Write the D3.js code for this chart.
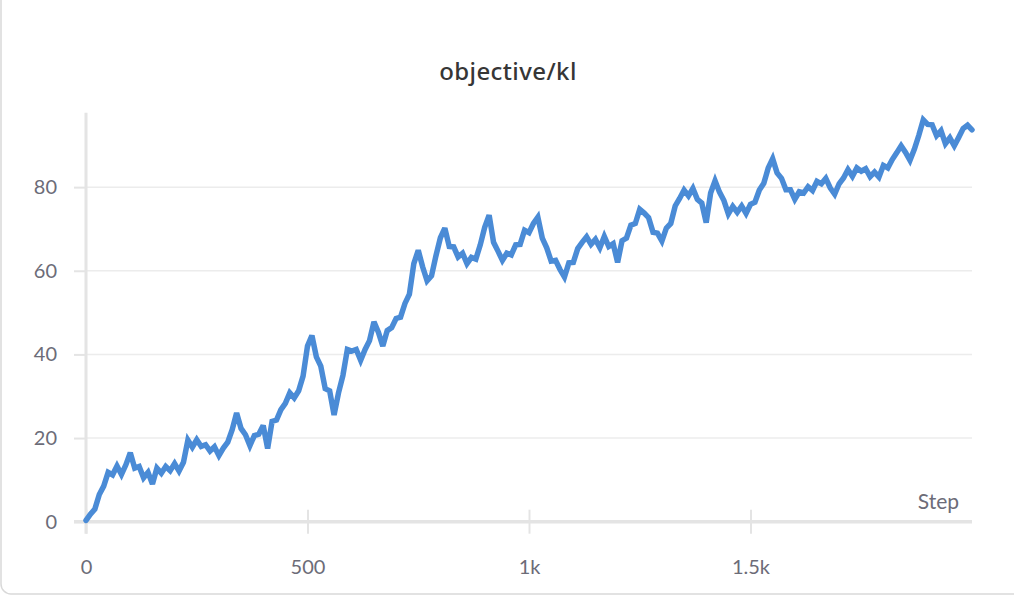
<!DOCTYPE html>
<html>
<head>
<meta charset="utf-8">
<script src="https://cdn.jsdelivr.net/npm/d3@7"></script>
<style>
  html, body { margin: 0; padding: 0; background: #ffffff; }
  svg { display: block; }
  text { font-family: Lato, "Noto Sans", sans-serif; }
</style>
</head>
<body>
<svg id="chart" width="1014" height="596"></svg>
<script>
// ---- data ----
const chartTitle = "objective/kl";
const xAxisLabel = "Step";
const stepInterval = 10;
const klValues = [
  0.3, 1.8, 3.0, 6.5, 8.5, 11.8, 11.2, 13.3, 11.3, 13.6,
  16.5, 12.8, 13.2, 10.5, 11.8, 9.0, 12.8, 11.6, 13.2, 12.2,
  13.9, 12.1, 14.2, 19.5, 17.8, 19.6, 18.0, 18.4, 16.9, 17.9,
  15.8, 17.6, 19.0, 22.0, 26.0, 22.3, 20.8, 18.2, 20.6, 20.9,
  23.0, 17.5, 24.0, 24.3, 26.8, 28.3, 30.8, 29.6, 31.3, 34.8,
  42.0, 44.5, 39.4, 37.2, 31.8, 31.3, 25.5, 30.8, 35.0, 41.2,
  40.8, 41.2, 38.6, 41.2, 43.3, 47.8, 45.3, 42.0, 45.7, 46.4,
  48.6, 48.9, 52.2, 54.4, 61.7, 64.9, 60.9, 57.6, 58.8, 63.6,
  67.9, 70.2, 65.8, 65.7, 63.3, 64.2, 61.7, 63.2, 62.8, 66.2,
  70.4, 73.3, 66.8, 64.7, 62.5, 64.2, 63.8, 66.2, 66.3, 69.7,
  69.1, 71.3, 72.8, 67.8, 65.5, 62.3, 62.5, 60.3, 58.5, 61.9,
  62.0, 65.3, 66.8, 68.1, 66.3, 67.5, 65.5, 68.2, 65.8, 66.5,
  62.0, 67.2, 67.8, 70.9, 71.3, 74.7, 73.8, 72.7, 69.2, 69.0,
  67.1, 70.2, 71.3, 75.5, 77.3, 79.3, 77.9, 79.7, 77.1, 76.2,
  71.5, 78.6, 81.5, 78.8, 76.8, 73.6, 75.4, 74.0, 75.5, 73.7,
  75.9, 76.4, 79.3, 80.9, 84.6, 86.8, 83.4, 82.1, 79.4, 79.4,
  77.1, 78.9, 78.6, 80.1, 79.2, 81.4, 80.8, 82.1, 79.8, 78.3,
  80.8, 82.2, 84.2, 82.6, 84.6, 83.8, 84.4, 82.5, 83.6, 82.4,
  85.2, 84.6, 86.6, 88.2, 89.9, 88.3, 86.4, 89.1, 92.4, 96.1,
  95.0, 94.9, 92.3, 93.5, 90.4, 91.8, 89.9, 91.9, 94.0, 94.8,
  93.7
];
const xTickValues = [0, 500, 1000, 1500];
const xTickLabels = ["0", "500", "1k", "1.5k"];
const yTickValues = [0, 20, 40, 60, 80];
const xDomain = [0, 2000];
const yDomain = [0, 97.8];

const data = klValues.map((v, i) => ({ step: i * stepInterval, value: v }));

// ---- layout ----
const svg = d3.select("#chart");
const plotLeft = 86, plotRight = 972, plotTop = 112.7, plotBottom = 521.7;

const x = d3.scaleLinear().domain(xDomain).range([plotLeft, plotRight]);
const y = d3.scaleLinear().domain(yDomain).range([plotBottom, plotTop]);

// card border
svg.append("rect")
  .attr("x", 1).attr("y", -20)
  .attr("width", 1100).attr("height", 614)
  .attr("rx", 10).attr("ry", 10)
  .attr("fill", "#fff")
  .attr("stroke", "#d9d9d9").attr("stroke-width", 1.5);

// title
svg.append("text")
  .attr("x", 508).attr("y", 80)
  .attr("text-anchor", "middle")
  .style("font-family", "'Noto Sans', 'Open Sans', sans-serif")
  .attr("font-size", 24).attr("font-weight", 500)
  .attr("letter-spacing", 0.4)
  .attr("fill", "#363636")
  .text(chartTitle);

// y axis ticks + labels
const yAxisG = svg.append("g")
  .attr("transform", `translate(${plotLeft},0)`)
  .call(d3.axisLeft(y).tickValues(yTickValues).tickSize(12).tickPadding(17).tickFormat(d3.format("d")));
yAxisG.select(".domain").remove();
yAxisG.selectAll(".tick line").attr("stroke", "#e4e4e4").attr("stroke-width", 2);
yAxisG.selectAll(".tick text")
  .attr("font-size", 20).attr("fill", "#6c6c78")
  .attr("font-family", "Lato, 'Noto Sans', sans-serif");

// grid lines
svg.append("g")
  .selectAll("line")
  .data(yTickValues.filter(d => d > 0))
  .join("line")
  .attr("x1", plotLeft).attr("x2", plotRight)
  .attr("y1", d => y(d)).attr("y2", d => y(d))
  .attr("stroke", "#ececec").attr("stroke-width", 1.5);

// y axis line
svg.append("line")
  .attr("x1", plotLeft).attr("x2", plotLeft)
  .attr("y1", plotTop).attr("y2", plotBottom + 12)
  .attr("stroke", "#e4e4e4").attr("stroke-width", 3);

// x axis
const xAxisG = svg.append("g")
  .attr("transform", `translate(0,${plotBottom})`)
  .call(d3.axisBottom(x).tickValues(xTickValues).tickSize(12).tickPadding(26)
    .tickFormat((d, i) => xTickLabels[i]));
xAxisG.select(".domain").remove();
xAxisG.selectAll(".tick line")
  .attr("y1", -12).attr("y2", 12)
  .attr("stroke", "#e4e4e4").attr("stroke-width", 2);
xAxisG.selectAll(".tick text")
  .attr("font-size", 20).attr("fill", "#6c6c78")
  .attr("font-family", "Lato, 'Noto Sans', sans-serif");

svg.append("line")
  .attr("x1", plotLeft - 12).attr("x2", plotRight)
  .attr("y1", plotBottom).attr("y2", plotBottom)
  .attr("stroke", "#e4e4e4").attr("stroke-width", 3.5);

svg.append("text")
  .attr("x", 959).attr("y", 509)
  .attr("text-anchor", "end")
  .attr("font-size", 21).attr("fill", "#6c6c78")
  .text(xAxisLabel);

// line
const line = d3.line()
  .x(d => x(d.step))
  .y(d => y(d.value));

svg.append("path")
  .datum(data)
  .attr("fill", "none")
  .attr("stroke", "#4a8bd6")
  .attr("stroke-width", 5.5)
  .attr("stroke-linejoin", "miter")
  .attr("stroke-miterlimit", 3)
  .attr("stroke-linecap", "round")
  .attr("d", line);
</script>
</body>
</html>
